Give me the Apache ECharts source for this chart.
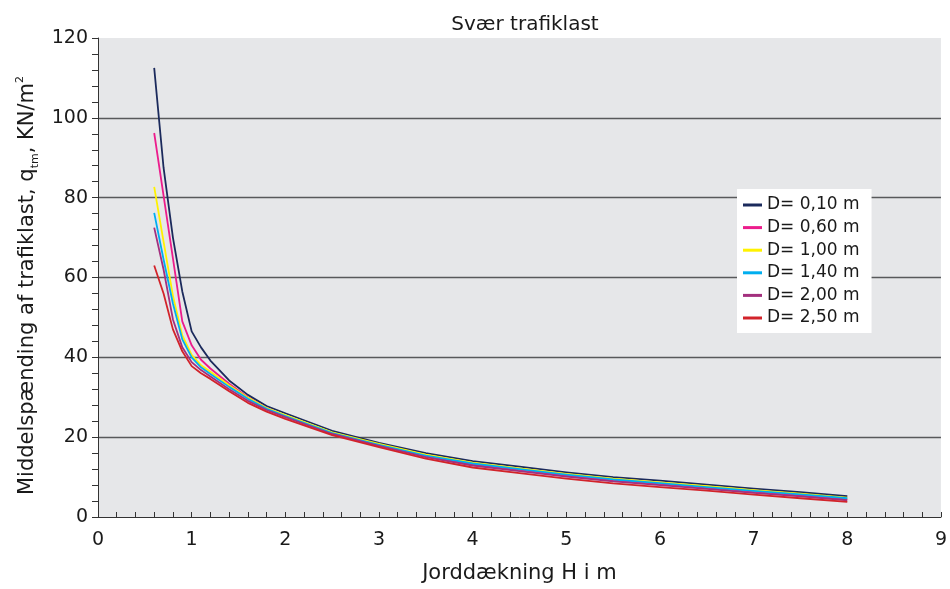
<!DOCTYPE html>
<html>
<head>
<meta charset="utf-8">
<script src="https://cdn.jsdelivr.net/npm/echarts@6/dist/echarts.min.js"></script>
<style>
html,body{margin:0;padding:0;background:#fff;}
#main{width:950px;height:589px;}
</style>
</head>
<body>
<div id="main"></div>
<script>
// jorddækning H (m)
var depth = [0.6, 0.7, 0.8, 0.9, 1.0, 1.1, 1.2, 1.4, 1.6, 1.8, 2.0, 2.5, 3.0, 3.5, 4.0, 4.5, 5.0, 5.5, 6.0, 6.5, 7.0, 7.5, 8.0];
var names = ['D= 0,10 m', 'D= 0,60 m', 'D= 1,00 m', 'D= 1,40 m', 'D= 2,00 m', 'D= 2,50 m'];
var colors = ['#1b2a5c', '#ec1c8c', '#fff200', '#00aeef', '#a3307e', '#d2232a'];
// middelspænding q_tm (kN/m2) pr. rørdiameter
var d010 = [112.5, 87.5, 70, 56.5, 46.5, 42.5, 39.2, 34.2, 30.6, 27.8, 26.0, 21.6, 18.6, 16.0, 14.0, 12.6, 11.2, 10.0, 9.1, 8.1, 7.1, 6.2, 5.2];
var d060 = [96.2, 80.5, 64.8, 49.0, 43.0, 39.4, 37.2, 33.4, 30.0, 27.3, 25.3, 21.0, 18.0, 15.3, 13.2, 11.8, 10.4, 9.2, 8.3, 7.35, 6.35, 5.45, 4.5];
var d100 = [82.7, 69.0, 55.4, 45.5, 40.6, 38.0, 36.4, 33.0, 29.9, 27.3, 25.5, 21.2, 18.3, 15.6, 13.6, 12.2, 10.8, 9.6, 8.7, 7.7, 6.7, 5.85, 4.85];
var d140 = [76.2, 64.5, 53.5, 44.5, 40.0, 37.5, 35.8, 32.6, 29.6, 27.1, 25.3, 21.0, 18.1, 15.4, 13.4, 12.0, 10.6, 9.4, 8.5, 7.5, 6.55, 5.65, 4.7];
var d200 = [72.5, 62.0, 49.5, 42.5, 38.8, 36.8, 35.2, 32.0, 29.1, 26.8, 25.0, 20.8, 17.8, 15.0, 12.9, 11.5, 10.1, 8.9, 8.0, 7.05, 6.05, 5.15, 4.2];
var d250 = [63.0, 56.0, 47.0, 41.5, 37.8, 36.0, 34.6, 31.5, 28.6, 26.4, 24.6, 20.5, 17.5, 14.6, 12.4, 11.0, 9.6, 8.4, 7.5, 6.6, 5.6, 4.7, 3.8];
var values = [d010, d060, d100, d140, d200, d250];

var font = 'DejaVu Sans';
var myChart = echarts.init(document.getElementById('main'));

var series = [];
for (var i = 0; i < names.length; i++) {
    var pts = [];
    for (var j = 0; j < depth.length; j++) pts.push([depth[j], values[i][j]]);
    series.push({
        name: names[i],
        type: 'line',
        data: pts,
        showSymbol: false,
        symbol: 'none',
        lineStyle: {color: colors[i], width: 1.8, join: 'round'},
        itemStyle: {color: colors[i]}
    });
}

var hide = 'rgba(0,0,0,0)';
option = {
    animation: false,
    backgroundColor: '#fff',
    title: {
        text: 'Svær trafiklast',
        left: 520,
        top: 10,
        textAlign: 'center',
        textStyle: {fontFamily: font, fontSize: 20, fontWeight: 'normal', color: '#1a1a1a'}
    },
    legend: {
        orient: 'vertical',
        left: 737,
        top: 189,
        data: names,
        icon: 'rect',
        itemWidth: 19,
        itemHeight: 3,
        itemGap: 4.6,
        backgroundColor: '#fff',
        padding: [7, 12, 6, 6],
        textStyle: {fontFamily: font, fontSize: 17, lineHeight: 18, color: '#1a1a1a'}
    },
    grid: {
        left: 98, right: 8, top: 38, bottom: 69,
        show: true, backgroundColor: '#e6e7e9', borderWidth: 0
    },
    xAxis: {
        type: 'value',
        min: 0, max: 9, interval: 1,
        name: 'Jorddækning H i m',
        nameLocation: 'middle',
        nameGap: 46,
        nameTextStyle: {fontFamily: font, fontSize: 21, color: '#1a1a1a'},
        axisLine: {lineStyle: {color: '#333', width: 1}},
        axisTick: {inside: true, length: 5, lineStyle: {color: '#333'}},
        minorTick: {show: true, splitNumber: 5, length: 5, lineStyle: {color: '#333'}},
        axisLabel: {fontFamily: font, fontSize: 19, color: '#1a1a1a', margin: 14},
        splitLine: {show: false}
    },
    yAxis: {
        type: 'value',
        min: 0, max: 120, interval: 20,
        name: 'Middelspænding af trafiklast, q{sub|tm}, KN/m{sup|2}',
        nameLocation: 'middle',
        nameGap: 52,
        nameTextStyle: {
            fontFamily: font, fontSize: 21, color: '#1a1a1a', lineHeight: 26,
            padding: [0, 16, 0, 0],
            rich: {
                sub: {fontFamily: font, fontSize: 11, color: '#1a1a1a', verticalAlign: 'bottom', lineHeight: 14},
                sup: {fontFamily: font, fontSize: 11, color: '#1a1a1a', verticalAlign: 'top', lineHeight: 12}
            }
        },
        axisLine: {show: true, lineStyle: {color: '#333', width: 1}},
        axisTick: {show: true, length: 6, lineStyle: {color: '#333'}},
        minorTick: {show: true, splitNumber: 5, length: 6, lineStyle: {color: '#333'}},
        axisLabel: {fontFamily: font, fontSize: 19, color: '#1a1a1a', margin: 10},
        splitLine: {show: true, lineStyle: {color: [hide, '#58595b', '#58595b', '#58595b', '#58595b', '#58595b', hide], width: 1.4}}
    },
    series: series
};
myChart.setOption(option);
</script>
</body>
</html>
